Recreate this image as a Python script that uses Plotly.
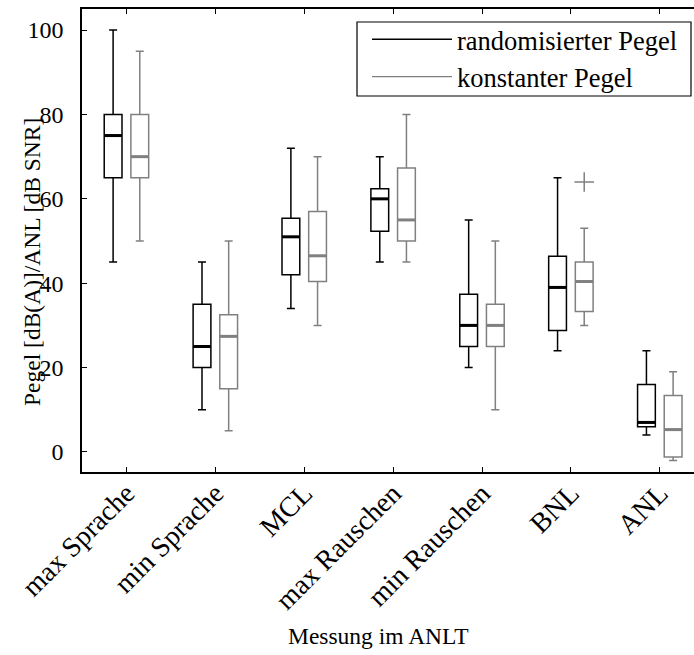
import plotly.graph_objects as go

categories = ["max Sprache", "min Sprache", "MCL", "max Rauschen", "min Rauschen", "BNL", "ANL"]

rand_low = [45, 10, 34, 45, 20, 24, 4]
rand_q1 = [65, 20, 42, 52.3, 25, 28.8, 6]
rand_med = [75, 25, 51, 60, 30, 39, 7]
rand_q3 = [80, 35, 55.4, 62.4, 37.4, 46.4, 16]
rand_high = [100, 45, 72, 70, 55, 65, 24]

konst_low = [50, 5, 30, 45, 10, 30, -2]
konst_q1 = [65, 15, 40.4, 50, 25, 33.3, -1.2]
konst_med = [70, 27.4, 46.5, 55, 30, 40.4, 5.3]
konst_q3 = [80, 32.5, 57, 67.3, 35, 45, 13.4]
konst_high = [95, 50, 70, 80, 50, 53, 19]

konst_outlier_cat = [5]
konst_outlier_val = [64]

yticks = [0, 20, 40, 60, 80, 100]

FONT = "Liberation Serif"
BLACK = "#000000"
GRAY = "#808080"
OFF = 0.15
BW = 0.2

W, H = 694, 655
ML, MT, MB = 82, 9, 183
PW, PH = W - ML, H - MT - MB

def px(x):
    return (x - ML) / PW

def py(y):
    return 1 - (y - MT) / PH

idx = list(range(len(categories)))
xr = [i - OFF for i in idx]
xk = [i + OFF for i in idx]

fig = go.Figure()

def add_box(xs, low, q1, med, q3, high, color):
    fig.add_trace(go.Box(
        x=xs, q1=q1, median=med, q3=q3, lowerfence=low, upperfence=high,
        width=BW, whiskerwidth=0.45, fillcolor="white",
        line=dict(color=color, width=1.5), boxpoints=False,
        showlegend=False, hoverinfo="skip"))
    mx, my = [], []
    for x, m in zip(xs, med):
        mx += [x - BW / 2, x + BW / 2, None]
        my += [m, m, None]
    fig.add_trace(go.Scatter(x=mx, y=my, mode="lines",
                             line=dict(color=color, width=3),
                             showlegend=False, hoverinfo="skip"))

add_box(xr, rand_low, rand_q1, rand_med, rand_q3, rand_high, BLACK)
add_box(xk, konst_low, konst_q1, konst_med, konst_q3, konst_high, GRAY)

fig.add_trace(go.Scatter(
    x=[c + OFF for c in konst_outlier_cat], y=konst_outlier_val, mode="markers",
    marker=dict(symbol="cross-thin", size=14, line=dict(color=GRAY, width=1.5)),
    showlegend=False, hoverinfo="skip"))

fig.add_trace(go.Scatter(x=[None], y=[None], mode="lines", name="randomisierter Pegel",
                         line=dict(color=BLACK, width=1.3)))
fig.add_trace(go.Scatter(x=[None], y=[None], mode="lines", name="konstanter Pegel",
                         line=dict(color=GRAY, width=1.3)))

fig.update_layout(
    width=W, height=H,
    margin=dict(l=ML, r=0, t=MT, b=MB),
    paper_bgcolor="white", plot_bgcolor="white",
    font=dict(family=FONT, size=23, color="black"),
    showlegend=True,
    legend=dict(x=px(367), y=py(15.5), xanchor="left", yanchor="top",
                borderwidth=0, bgcolor="rgba(0,0,0,0)",
                font=dict(family=FONT, size=26.5), itemwidth=80,
                tracegroupgap=0),
    xaxis=dict(range=[-0.5, 6.385], tickmode="array", tickvals=idx, ticktext=categories,
               tickangle=-45, ticks="inside", ticklen=5, tickcolor="black",
               showline=True, linecolor="black", linewidth=1.5, mirror="ticks",
               showgrid=False, zeroline=False, tickfont=dict(size=28),
               ticklabelstandoff=-8),
    yaxis=dict(range=[-4.75, 105], tickmode="array", tickvals=yticks,
               ticks="inside", ticklen=5, tickcolor="black",
               showline=True, linecolor="black", linewidth=1.5, mirror=False,
               showgrid=False, zeroline=False, tickfont=dict(size=24),
               ticklabelstandoff=12),
)

fig.add_shape(type="rect", xref="paper", yref="paper",
              x0=px(357), x1=px(691), y0=py(96), y1=py(22),
              line=dict(color="black", width=1.2), fillcolor="white", layer="below")

fig.add_annotation(text="Messung im ANLT", xref="paper", yref="paper",
                   x=px(378), y=py(636), xanchor="center", yanchor="middle",
                   showarrow=False, font=dict(family=FONT, size=23.5))
fig.add_annotation(text="Pegel [dB(A)]/ANL [dB SNR]", xref="paper", yref="paper",
                   x=px(32), y=py(262), xanchor="center", yanchor="middle",
                   textangle=-90, showarrow=False, font=dict(family=FONT, size=23.5))

fig.write_html("out.html")
